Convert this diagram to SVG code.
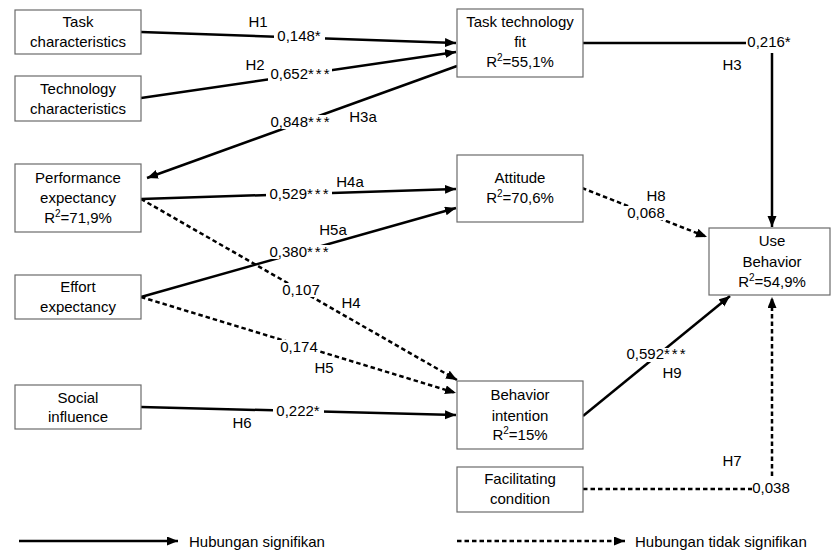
<svg xmlns="http://www.w3.org/2000/svg" width="831" height="552" viewBox="0 0 831 552">
<style>
.box{fill:#fff;stroke:#6b6b6b;stroke-width:1.2}
text{font-family:"Liberation Sans",Arial,sans-serif;font-size:15px;fill:#000}
.c{text-anchor:middle}
.s{fill:none;stroke:#000;stroke-width:2.5}
.d{fill:none;stroke:#000;stroke-width:2.5;stroke-dasharray:4.5 3}
.bg{fill:#fff}
.sup{font-size:10px}
.st{letter-spacing:2px}
</style>
<defs>
<marker id="ah" markerUnits="userSpaceOnUse" markerWidth="12" markerHeight="10" refX="11" refY="4.5" orient="auto" viewBox="0 0 12 10">
<path d="M0,0 L11,4.5 L0,9 Z" fill="#000"/>
</marker>
</defs>
<rect width="831" height="552" fill="#fff"/>

<g id="connectors">
<line class="s" x1="141" y1="32" x2="456" y2="43" marker-end="url(#ah)"/>
<line class="s" x1="141" y1="98" x2="456" y2="52" marker-end="url(#ah)"/>
<line class="s" x1="457" y1="66" x2="147" y2="178" marker-end="url(#ah)"/>
<polyline class="s" points="583,43 746,43"/>
<line class="s" x1="772" y1="53" x2="772" y2="227" marker-end="url(#ah)"/>
<line class="s" x1="141" y1="199" x2="456" y2="189" marker-end="url(#ah)"/>
<line class="s" x1="141" y1="297" x2="456" y2="208" marker-end="url(#ah)"/>
<line class="d" x1="141" y1="199" x2="457" y2="380" marker-end="url(#ah)"/>
<line class="d" x1="141" y1="297" x2="456" y2="393" marker-end="url(#ah)"/>
<line class="s" x1="141" y1="407" x2="456" y2="415" marker-end="url(#ah)"/>
<line class="d" x1="582" y1="188" x2="707" y2="237" marker-end="url(#ah)"/>
<line class="s" x1="583" y1="416" x2="730" y2="296" marker-end="url(#ah)"/>
<line class="d" x1="583" y1="489" x2="752" y2="489"/>
<line class="d" x1="772" y1="476" x2="772" y2="297" marker-end="url(#ah)"/>
<line class="s" x1="19" y1="541" x2="178" y2="541" marker-end="url(#ah)"/>
<line class="d" x1="457" y1="541" x2="625" y2="541" marker-end="url(#ah)"/>
</g>

<g id="labels">
<rect class="bg" x="274" y="30" width="51" height="13"/>
<rect class="bg" x="268" y="67" width="64" height="14"/>
<rect class="bg" x="268" y="115" width="66" height="14"/>
<rect class="bg" x="266" y="188" width="66" height="13"/>
<rect class="bg" x="266" y="245" width="66" height="14"/>
<rect class="bg" x="280" y="283" width="42" height="14"/>
<rect class="bg" x="278" y="340" width="42" height="14"/>
<rect class="bg" x="273" y="405" width="51" height="13"/>
<rect class="bg" x="625" y="206" width="42" height="14"/>
<rect class="bg" x="623" y="348" width="66" height="14"/>
<text class="c" x="258" y="27">H1</text>
<text class="c" x="299" y="41">0,148*</text>
<text class="c" x="255" y="70">H2</text>
<text class="c" x="301" y="79">0,652<tspan class="st">***</tspan></text>
<text class="c" x="301" y="127">0,848<tspan class="st">***</tspan></text>
<text class="c" x="363" y="122">H3a</text>
<text class="c" x="769" y="47">0,216*</text>
<text class="c" x="732" y="70">H3</text>
<text class="c" x="300" y="199">0,529<tspan class="st">***</tspan></text>
<text class="c" x="350" y="187">H4a</text>
<text class="c" x="333" y="235">H5a</text>
<text class="c" x="300" y="257">0,380<tspan class="st">***</tspan></text>
<text class="c" x="301" y="295">0,107</text>
<text class="c" x="351" y="308">H4</text>
<text class="c" x="299" y="352">0,174</text>
<text class="c" x="324" y="373">H5</text>
<text class="c" x="298" y="416">0,222*</text>
<text class="c" x="242" y="428">H6</text>
<text class="c" x="656" y="201">H8</text>
<text class="c" x="646" y="218">0,068</text>
<text class="c" x="657" y="359">0,592<tspan class="st">***</tspan></text>
<text class="c" x="672" y="378">H9</text>
<text class="c" x="732" y="466">H7</text>
<text class="c" x="771" y="493">0,038</text>
<text x="189" y="547">Hubungan signifikan</text>
<text x="635" y="547">Hubungan tidak signifikan</text>
</g>

<g id="task-characteristics">
<rect class="box" x="15" y="10" width="126" height="44"/>
<text class="c" x="78" y="27">Task</text>
<text class="c" x="78" y="47">characteristics</text>
</g>
<g id="technology-characteristics">
<rect class="box" x="15" y="76" width="126" height="45"/>
<text class="c" x="78" y="94">Technology</text>
<text class="c" x="78" y="114">characteristics</text>
</g>
<g id="task-technology-fit">
<rect class="box" x="457" y="9" width="126" height="68"/>
<text class="c" x="520" y="27">Task technology</text>
<text class="c" x="520" y="47">fit</text>
<text class="c" x="520" y="67">R<tspan class="sup" dy="-6">2</tspan><tspan dy="6">=55,1%</tspan></text>
</g>
<g id="performance-expectancy">
<rect class="box" x="15" y="164" width="126" height="68"/>
<text class="c" x="78" y="183">Performance</text>
<text class="c" x="78" y="203">expectancy</text>
<text class="c" x="78" y="223">R<tspan class="sup" dy="-6">2</tspan><tspan dy="6">=71,9%</tspan></text>
</g>
<g id="effort-expectancy">
<rect class="box" x="15" y="275" width="126" height="44"/>
<text class="c" x="78" y="292">Effort</text>
<text class="c" x="78" y="312">expectancy</text>
</g>
<g id="social-influence">
<rect class="box" x="15" y="385" width="126" height="44"/>
<text class="c" x="78" y="403">Social</text>
<text class="c" x="78" y="422">influence</text>
</g>
<g id="attitude">
<rect class="box" x="457" y="155" width="126" height="67"/>
<text class="c" x="520" y="183">Attitude</text>
<text class="c" x="520" y="203">R<tspan class="sup" dy="-6">2</tspan><tspan dy="6">=70,6%</tspan></text>
</g>
<g id="use-behavior">
<rect class="box" x="709" y="228" width="121" height="67"/>
<text class="c" x="772" y="246">Use</text>
<text class="c" x="772" y="267">Behavior</text>
<text class="c" x="772" y="287">R<tspan class="sup" dy="-6">2</tspan><tspan dy="6">=54,9%</tspan></text>
</g>
<g id="behavior-intention">
<rect class="box" x="457" y="381" width="126" height="68"/>
<text class="c" x="520" y="400">Behavior</text>
<text class="c" x="520" y="421">intention</text>
<text class="c" x="520" y="440">R<tspan class="sup" dy="-6">2</tspan><tspan dy="6">=15%</tspan></text>
</g>
<g id="facilitating-condition">
<rect class="box" x="457" y="467" width="126" height="45"/>
<text class="c" x="520" y="484">Facilitating</text>
<text class="c" x="520" y="504">condition</text>
</g>
</svg>
